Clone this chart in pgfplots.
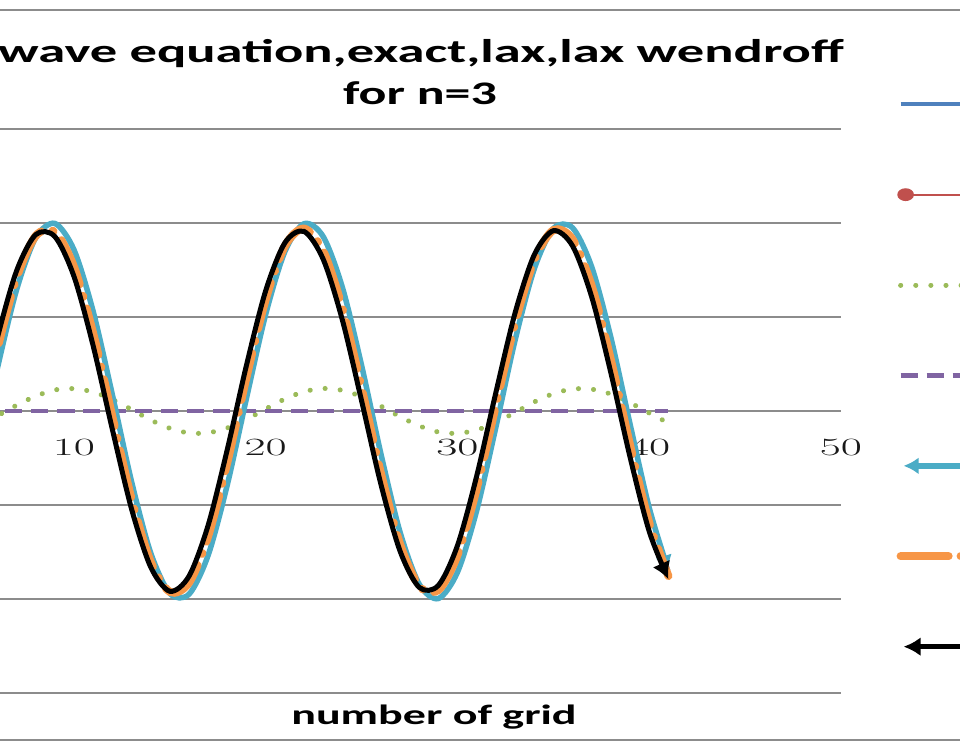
\documentclass[border=0pt]{standalone}
\usepackage{pgfplots}
\usepackage{pgfplotstable}
\pgfplotsset{compat=1.18}
\usepackage{fontspec}
\setmainfont{Carlito}
\newfontfamily\tickfont{Liberation Serif}
\usetikzlibrary{arrows.meta}
\definecolor{sA}{HTML}{4F81BD}
\definecolor{sB}{HTML}{C0504D}
\definecolor{sC}{HTML}{9BBB59}
\definecolor{sD}{HTML}{8064A2}
\definecolor{sE}{HTML}{4BACC6}
\definecolor{sF}{HTML}{F79646}
\definecolor{gridc}{HTML}{8C8C8C}

\pgfplotsset{
  fwdlegend/.style={legend image code/.code={\draw[##1] (0bp,0bp) -- (80bp,0bp);}},
  revlegend/.style={legend image code/.code={\draw[##1] (80bp,0bp) -- (3bp,0bp);}},
  marklegend/.style={legend image code/.code={\draw[##1, mark=none] (0bp,0bp) -- (80bp,0bp); \draw[##1, mark indices={1}] plot coordinates {(5bp,0bp)};}},
}

\pgfplotstableread{
x  ex      lax     lw      o       k
1  -0.8486 -0.064  0  -0.878  -0.895
2  -0.9963 -0.103  0  -0.970  -0.955
3  -0.9268 -0.120  0  -0.850  -0.806
4  -0.6555 -0.110  0  -0.545  -0.482
5  -0.2411 -0.076  0  -0.122  -0.053
6   0.2258 -0.026  0   0.329   0.388
7   0.6433  0.030  0   0.707   0.744
8   0.9208  0.079  0   0.931   0.938
9   0.9975  0.112  0   0.953   0.928
10  0.8567  0.119  0   0.766   0.715
11  0.5292  0.101  0   0.413   0.346
12  0.0863  0.061  0  -0.030  -0.098
13 -0.3754  0.008  0  -0.467  -0.521
14 -0.7554 -0.048  0  -0.802  -0.830
15 -0.9705 -0.092  0  -0.962  -0.959
16 -0.9742 -0.117  0  -0.913  -0.878
17 -0.7655 -0.116  0  -0.664  -0.606
18 -0.3899 -0.090  0  -0.271  -0.202
19  0.0706 -0.044  0   0.182   0.246
20  0.5160  0.011  0   0.595   0.641
21  0.8486  0.064  0   0.878   0.895
22  0.9963  0.103  0   0.970   0.955
23  0.9268  0.120  0   0.850   0.806
24  0.6555  0.110  0   0.545   0.482
25  0.2411  0.076  0   0.122   0.053
26 -0.2258  0.026  0  -0.329  -0.388
27 -0.6433 -0.030  0  -0.707  -0.744
28 -0.9208 -0.079  0  -0.931  -0.938
29 -0.9975 -0.112  0  -0.953  -0.928
30 -0.8567 -0.119  0  -0.766  -0.715
31 -0.5292 -0.101  0  -0.413  -0.346
32 -0.0863 -0.061  0   0.030   0.098
33  0.3754 -0.008  0   0.467   0.521
34  0.7554  0.048  0   0.802   0.830
35  0.9705  0.092  0   0.962   0.959
36  0.9742  0.117  0   0.913   0.878
37  0.7655  0.116  0   0.664   0.606
38  0.3899  0.090  0   0.271   0.202
39 -0.0706  0.044  0  -0.182  -0.246
40 -0.5160 -0.011  0  -0.595  -0.641
41 -0.8486 -0.064  0  -0.878  -0.895
}\datatable

\begin{document}
\begin{tikzpicture}[x=1bp,y=1bp]
\useasboundingbox (0,0) rectangle (960,750);
\clip (0,0) rectangle (960,750);
\fill[white] (0,0) rectangle (960,750);
\draw[gridc, line width=1.5bp] (0,740) -- (960,740);
\draw[gridc, line width=1.5bp] (0,10) -- (960,10);
\node[anchor=base, inner sep=0pt] at (421,687) {\scalebox{1.66}[1]{\fontsize{33}{40}\selectfont\bfseries wave equation,exact,lax,lax wendroff}};
\node[anchor=base, inner sep=0pt] at (420,645) {\scalebox{1.58}[1]{\fontsize{33}{40}\selectfont\bfseries for n=3}};
\node[anchor=base, inner sep=0pt] at (434,25) {\scalebox{1.65}[1]{\fontsize{28}{32}\selectfont\bfseries number of grid}};
\begin{axis}[
  at={(0bp,57bp)}, anchor=south west,
  scale only axis, width=841bp, height=564bp,
  xmin=6.14, xmax=50, ymin=-1.5, ymax=1.5,
  axis line style={draw=none},
  xtick={10,20,30,40,50},
  ytick={-1.5,-1,-0.5,0,0.5,1,1.5},
  yticklabels={},
  major tick length=0pt,
  ymajorgrids,
  grid style={gridc, line width=1.5bp},
  xticklabel={\scalebox{1.85}[1]{\tickfont\fontsize{26}{30}\selectfont\pgfmathprintnumber{\tick}}},
  xticklabel style={anchor=north, inner sep=0pt, yshift=254bp, text=black!90},
  legend style={at={(axis cs:52.9,1.872)}, anchor=north west, draw=none, fill=none,
    inner sep=0pt, outer sep=0pt, row sep=0pt, column sep=10bp,
    font=\fontsize{22}{26}\selectfont,
    nodes={inner sep=0pt, text height=45.2bp, text depth=45.2bp, anchor=base west}},
  legend cell align=left,
  fwdlegend,
]
\addplot[sA, line width=4bp, smooth] table[x=x, y=ex] {\datatable};
\addlegendentry{Series1}
\addplot[sB, line width=1.8bp, smooth, mark=*, mark indices={41}, mark size=5.5bp, mark options={xscale=1.35, fill=sB, draw=sB}, marklegend]
  table[x=x, y=ex] {\datatable};
\addlegendentry{Series2}
\addplot[sC, line width=5bp, smooth, line cap=round, dash pattern=on 0.1bp off 15bp] table[x=x, y=lax] {\datatable};
\addlegendentry{Series3}
\addplot[sD, line width=4.5bp, dash pattern=on 17bp off 9bp] table[x=x, y=lw] {\datatable};
\addlegendentry{Series4}
\addplot[sE, line width=5.5bp, smooth, -{Latex[length=15bp,width=17bp]}, revlegend] table[x=x, y=ex] {\datatable};
\addlegendentry{Series5}
\addplot[sF, line width=8bp, smooth, line cap=round, dash pattern=on 48bp off 12bp on 1bp off 12bp] table[x=x, y=o] {\datatable};
\addlegendentry{Series6}
\addplot[black, line width=5bp, smooth, -{Latex[length=17bp,width=19bp]}, revlegend] table[x=x, y=k] {\datatable};
\addlegendentry{Series7}
\end{axis}
\end{tikzpicture}
\end{document}
